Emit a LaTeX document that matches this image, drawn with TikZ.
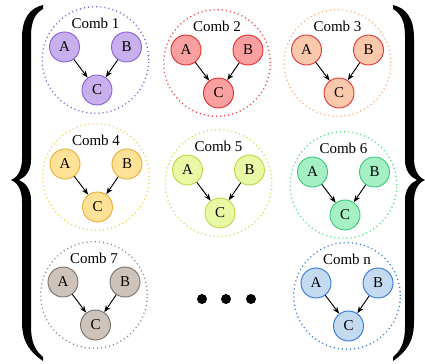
\documentclass[tikz,border=0pt]{standalone}
\usepackage{fontspec}
\setmainfont{Liberation Serif}
\usetikzlibrary{arrows.meta}
\definecolor{pF}{RGB}{200,176,236}\definecolor{pD}{RGB}{140,95,215}\definecolor{pR}{RGB}{130,90,215}
\definecolor{rF}{RGB}{250,160,160}\definecolor{rD}{RGB}{225,45,45}\definecolor{rR}{RGB}{240,60,60}
\definecolor{oF}{RGB}{250,200,170}\definecolor{oD}{RGB}{225,55,55}\definecolor{oR}{RGB}{248,170,120}
\definecolor{yF}{RGB}{255,226,150}\definecolor{yD}{RGB}{235,172,55}\definecolor{yR}{RGB}{250,208,50}
\definecolor{lF}{RGB}{233,248,165}\definecolor{lD}{RGB}{190,215,70}\definecolor{lR}{RGB}{200,225,60}
\definecolor{mF}{RGB}{165,240,195}\definecolor{mD}{RGB}{60,200,120}\definecolor{mR}{RGB}{80,220,130}
\definecolor{gF}{RGB}{205,195,186}\definecolor{gD}{RGB}{120,115,110}\definecolor{gR}{RGB}{150,130,120}
\definecolor{bF}{RGB}{195,218,240}\definecolor{bD}{RGB}{50,120,220}\definecolor{bR}{RGB}{50,120,220}
\tikzset{
  var/.style={circle, draw=#1D, fill=#1F, line width=0.8pt, minimum size=0.9cm, inner sep=0pt,
    font=\fontsize{12.8}{14}\selectfont},
  ring/.style={circle, draw=#1R, line width=1.1pt, dash pattern=on 0.9pt off 2.6pt,
    minimum size=3.2cm, inner sep=0pt},
  lab/.style={inner sep=0pt, font=\fontsize{12.8}{14}\selectfont},
  arr/.style={-{Stealth[length=6pt,width=4.5pt]}, line width=0.8pt},
  bigdot/.style={circle, fill=black, minimum size=0.3cm, inner sep=0pt},
}
\newcommand\combgroup[5]{%
  \node[ring=#4] (o#1) at (#2,#3+13) {};
  \node[lab] (l#1) at (#2,#3-24) {#5};
  \node[var=#4] (a#1) at (#2-31,#3) {A};
  \node[var=#4] (b#1) at (#2+31,#3) {B};
  \node[var=#4] (c#1) at (#2+1.5,#3+43) {C};
  \draw[arr] (a#1) -- (c#1);
  \draw[arr] (b#1) -- (c#1);
}
\begin{document}
\begin{tikzpicture}[x=0.03cm, y=-0.03cm]
\useasboundingbox (0,0) rectangle (425,363);
% left brace
\fill[black] (43,5) .. controls (30,8) and (22,18) .. (22,38) -- (22,158)
  .. controls (22,170) and (18,177) .. (11,180)
  .. controls (18,183) and (22,190) .. (22,202) -- (22,322)
  .. controls (22,342) and (30,352) .. (43,361) -- (43,357)
  .. controls (36,351) and (31,344) .. (31,326) -- (31,200)
  .. controls (31,190) and (26,183) .. (19,180)
  .. controls (26,177) and (31,170) .. (31,160) -- (31,36)
  .. controls (31,20) and (36,13) .. (43,9) -- cycle;
% right brace
\fill[black] (393,5) .. controls (406,8) and (414,18) .. (414,38) -- (414,158)
  .. controls (414,170) and (418,177) .. (425,180)
  .. controls (418,183) and (414,190) .. (414,202) -- (414,322)
  .. controls (414,342) and (406,352) .. (393,361) -- (393,357)
  .. controls (400,351) and (405,344) .. (405,326) -- (405,200)
  .. controls (405,190) and (410,183) .. (417,180)
  .. controls (410,177) and (405,170) .. (405,160) -- (405,36)
  .. controls (405,20) and (400,13) .. (393,9) -- cycle;
\combgroup{1}{95.5}{47}{p}{Comb 1}
\combgroup{2}{217}{50}{r}{Comb 2}
\combgroup{3}{337.5}{50}{o}{Comb 3}
\combgroup{4}{96}{164}{y}{Comb 4}
\combgroup{5}{218.5}{170}{l}{Comb 5}
\combgroup{6}{343.5}{172}{m}{Comb 6}
\combgroup{7}{94}{282}{g}{Comb 7}
\combgroup{n}{347}{283}{b}{Comb n}
\node[bigdot] (d1) at (202,299) {};
\node[bigdot] (d2) at (226,299) {};
\node[bigdot] (d3) at (251,299) {};
\end{tikzpicture}
\end{document}
